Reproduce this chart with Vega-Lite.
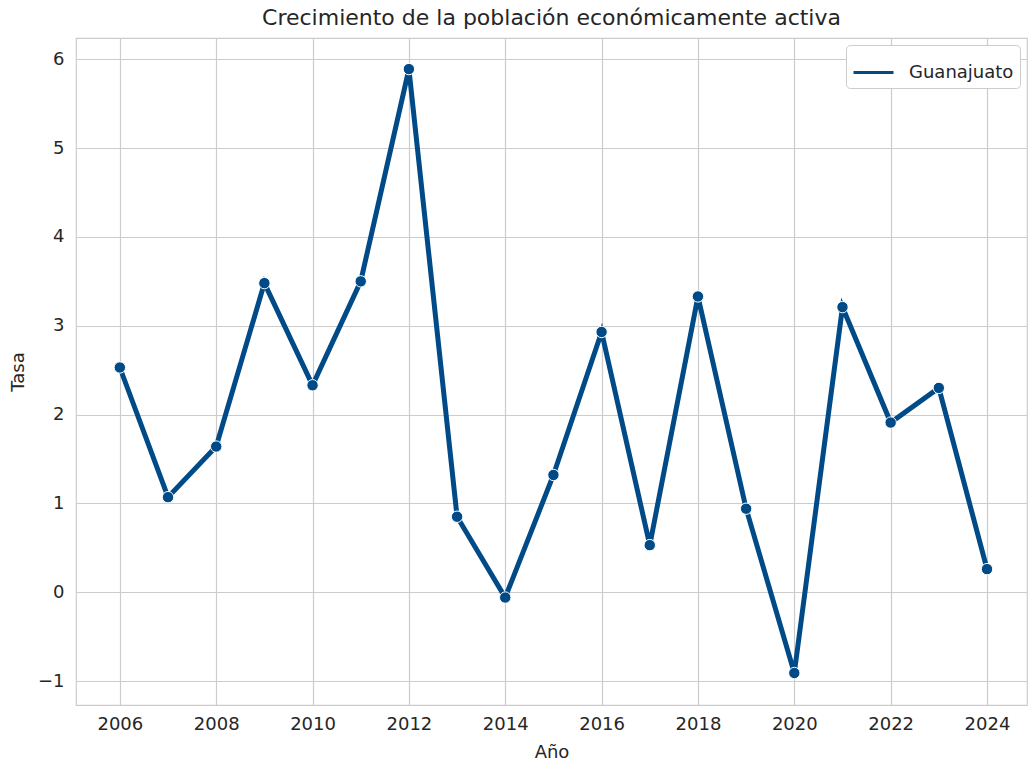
{
  "$schema": "https://vega.github.io/schema/vega-lite/v6.json",
  "width": 951,
  "height": 667,
  "autosize": {"type": "none"},
  "padding": {"left": 76, "top": 38, "right": 1, "bottom": 60},
  "background": "white",
  "config": {
    "font": "DejaVu Sans",
    "view": {"stroke": "#cccccc", "strokeWidth": 1.2},
    "axis": {
      "labelFont": "DejaVu Sans",
      "titleFont": "DejaVu Sans",
      "labelFontSize": 18,
      "titleFontSize": 18,
      "labelColor": "#262626",
      "titleColor": "#262626",
      "titleFontWeight": "normal",
      "gridColor": "#cccccc",
      "gridWidth": 1.2,
      "domain": false,
      "ticks": false
    }
  },
  "title": {
    "text": "Crecimiento de la población económicamente activa",
    "font": "DejaVu Sans",
    "fontSize": 22,
    "fontWeight": "normal",
    "color": "#262626",
    "offset": 8
  },
  "data": {
    "values": [
      {"anio": 2006, "tasa": 2.53, "serie": "Guanajuato"},
      {"anio": 2007, "tasa": 1.07, "serie": "Guanajuato"},
      {"anio": 2008, "tasa": 1.64, "serie": "Guanajuato"},
      {"anio": 2009, "tasa": 3.48, "serie": "Guanajuato"},
      {"anio": 2010, "tasa": 2.33, "serie": "Guanajuato"},
      {"anio": 2011, "tasa": 3.50, "serie": "Guanajuato"},
      {"anio": 2012, "tasa": 5.89, "serie": "Guanajuato"},
      {"anio": 2013, "tasa": 0.85, "serie": "Guanajuato"},
      {"anio": 2014, "tasa": -0.06, "serie": "Guanajuato"},
      {"anio": 2015, "tasa": 1.32, "serie": "Guanajuato"},
      {"anio": 2016, "tasa": 2.93, "serie": "Guanajuato"},
      {"anio": 2017, "tasa": 0.53, "serie": "Guanajuato"},
      {"anio": 2018, "tasa": 3.33, "serie": "Guanajuato"},
      {"anio": 2019, "tasa": 0.94, "serie": "Guanajuato"},
      {"anio": 2020, "tasa": -0.91, "serie": "Guanajuato"},
      {"anio": 2021, "tasa": 3.21, "serie": "Guanajuato"},
      {"anio": 2022, "tasa": 1.91, "serie": "Guanajuato"},
      {"anio": 2023, "tasa": 2.30, "serie": "Guanajuato"},
      {"anio": 2024, "tasa": 0.26, "serie": "Guanajuato"}
    ]
  },
  "encoding": {
    "x": {
      "field": "anio",
      "type": "quantitative",
      "title": "Año",
      "scale": {"domain": [2005.09, 2024.83], "nice": false, "zero": false},
      "axis": {"values": [2006, 2008, 2010, 2012, 2014, 2016, 2018, 2020, 2022, 2024], "format": "d", "labelPadding": 10, "titlePadding": 10}
    },
    "y": {
      "field": "tasa",
      "type": "quantitative",
      "title": "Tasa",
      "scale": {"domain": [-1.27, 6.24], "nice": false, "zero": false},
      "axis": {"values": [-1, 0, 1, 2, 3, 4, 5, 6], "labelPadding": 12, "titlePadding": 10, "labelExpr": "replace(datum.label, '-', '−')"}
    },
    "color": {
      "field": "serie",
      "type": "nominal",
      "scale": {"range": ["#004b87"]},
      "legend": {
        "title": null,
        "orient": "top-right",
        "offset": 7,
        "symbolType": "stroke",
        "symbolStrokeWidth": 3,
        "symbolSize": 1600,
        "labelOffset": 14,
        "labelFontSize": 18,
        "labelFont": "DejaVu Sans",
        "labelColor": "#262626",
        "fillColor": "white",
        "strokeColor": "#cccccc",
        "cornerRadius": 4,
        "padding": 6
      }
    }
  },
  "layer": [
    {"mark": {"type": "line", "strokeWidth": 5}},
    {"mark": {"type": "point", "filled": true, "size": 130, "opacity": 1, "stroke": "white", "strokeWidth": 1}}
  ]
}
